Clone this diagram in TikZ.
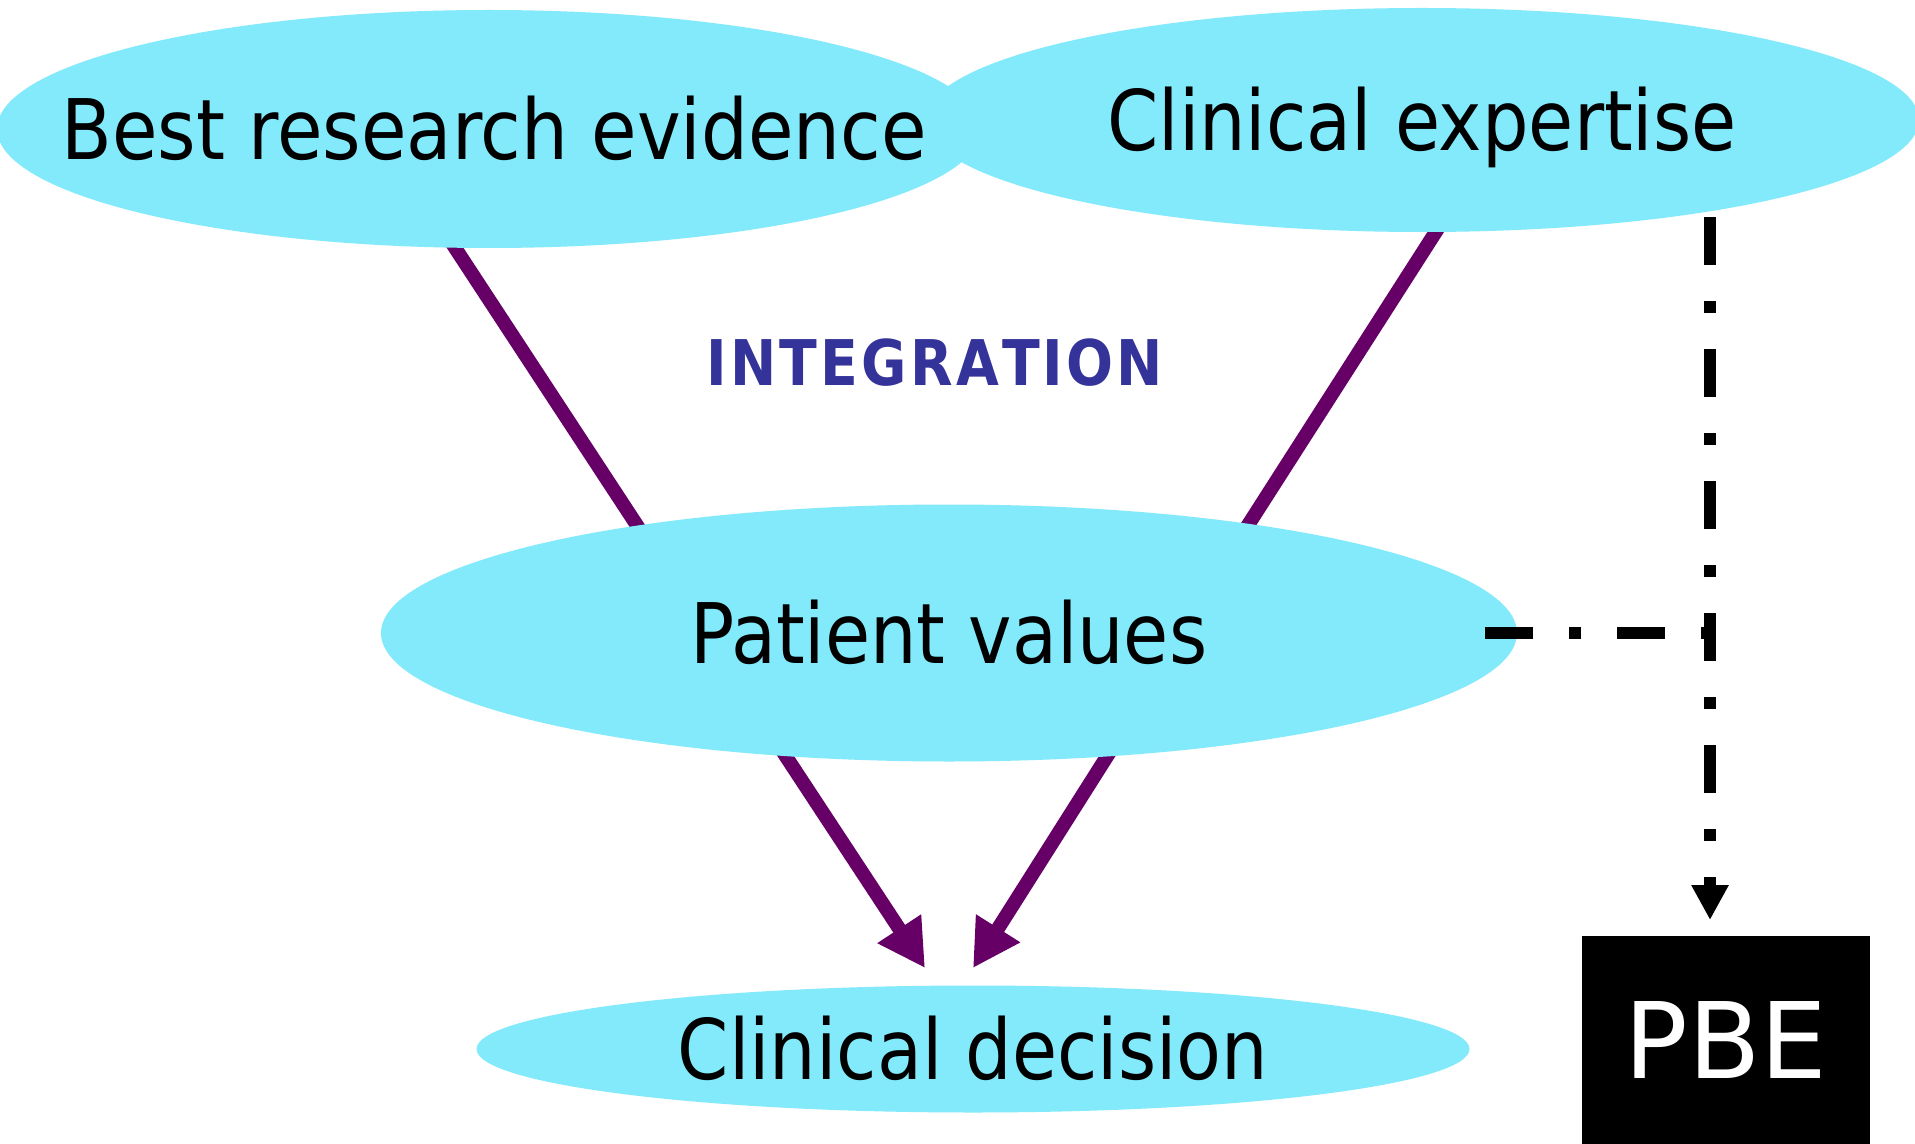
\documentclass[tikz,border=0pt]{standalone}
\usepackage{fontspec}
\setmainfont{DejaVu Sans Condensed}[FakeStretch=0.975]
\newfontfamily\pbefont{DejaVu Sans}
\usetikzlibrary{arrows.meta,shapes.geometric}
\pgfdeclarelayer{bg}
\pgfsetlayers{bg,main}
\definecolor{ellfill}{RGB}{131,234,252}
\definecolor{plum}{RGB}{102,0,102}
\definecolor{intblue}{RGB}{51,51,153}
\newcommand\lsp{\kern1.6pt}
\begin{document}
\begin{tikzpicture}[x=0.5pt,y=-0.5pt,
  ell/.style={ellipse, fill=ellfill, inner sep=0pt, outer sep=0pt,
    font=\fontsize{41.8pt}{41.8pt}\selectfont, text height=30.5pt, text depth=0pt},
  pline/.style={draw=plum, line width=7pt},
  parrow/.style={pline, -{Triangle[length=23.5pt,width=24.5pt]}},
  dline/.style={draw=black, line width=6pt, dash pattern=on 24pt off 18pt on 6pt off 18pt},
  darrow/.style={dline, -{Triangle[length=17.5pt,width=17.5pt]}},
  pbebox/.style={rectangle, fill=black, inner sep=0pt, outer sep=0pt,
    minimum width=144pt, minimum height=104pt, text=white,
    font=\pbefont\fontsize{52.8pt}{52.8pt}\selectfont, text height=38.5pt, text depth=0pt},
  integ/.style={text=intblue, inner sep=0pt, font=\bfseries\fontsize{31.5pt}{31.5pt}\selectfont,
    text height=23pt, text depth=0pt}]
\useasboundingbox (0,0) rectangle (1915,1144);

\node[ell, minimum width=497pt, minimum height=112pt] (ce) at (1422,120) {\makebox[0pt]{Clinical expertise}};
\node[ell, minimum width=492pt, minimum height=119pt] (bre) at (489,129) {\makebox[0pt]{\hspace{5pt}\scalebox{1.008}[1]{Best research evidence}}};
\node[ell, minimum width=568pt, minimum height=128.5pt] (pv) at (949,633) {\makebox[0pt]{Patient values}};
\node[ell, minimum width=496.5pt, minimum height=63.5pt] (cd) at (973,1049) {\makebox[0pt]{Clinical decision}};
\node[pbebox] (pbe) at (1726,1040) {PBE};
\node[integ] (int) at (935,363) {I\lsp N\lsp T\lsp E\lsp G\lsp R\lsp A\lsp T\lsp I\lsp O\lsp N};

\coordinate (tipL) at (925,968);
\coordinate (tipR) at (973,968);
\coordinate (vtop) at (1710,217);
\coordinate (hstart) at (1485,633);

\begin{pgfonlayer}{bg}
\fill[white] (0,0) rectangle (1915,1144);
\draw[pline, shorten <=-8pt, shorten >=-8pt] (bre.254.5) -- (pv.161.1);
\draw[pline, shorten <=-8pt, shorten >=-8pt] (ce.277.6) -- (pv.20.6);
\draw[parrow, shorten <=-8pt] (pv.217.2) -- (tipL);
\draw[parrow, shorten <=-8pt] (pv.322.3) -- (tipR);
\end{pgfonlayer}

\draw[dline] (hstart) -- (hstart -| vtop);
\draw[darrow, shorten >=8pt] (vtop) -- (vtop |- pbe.north);
\end{tikzpicture}
\end{document}
